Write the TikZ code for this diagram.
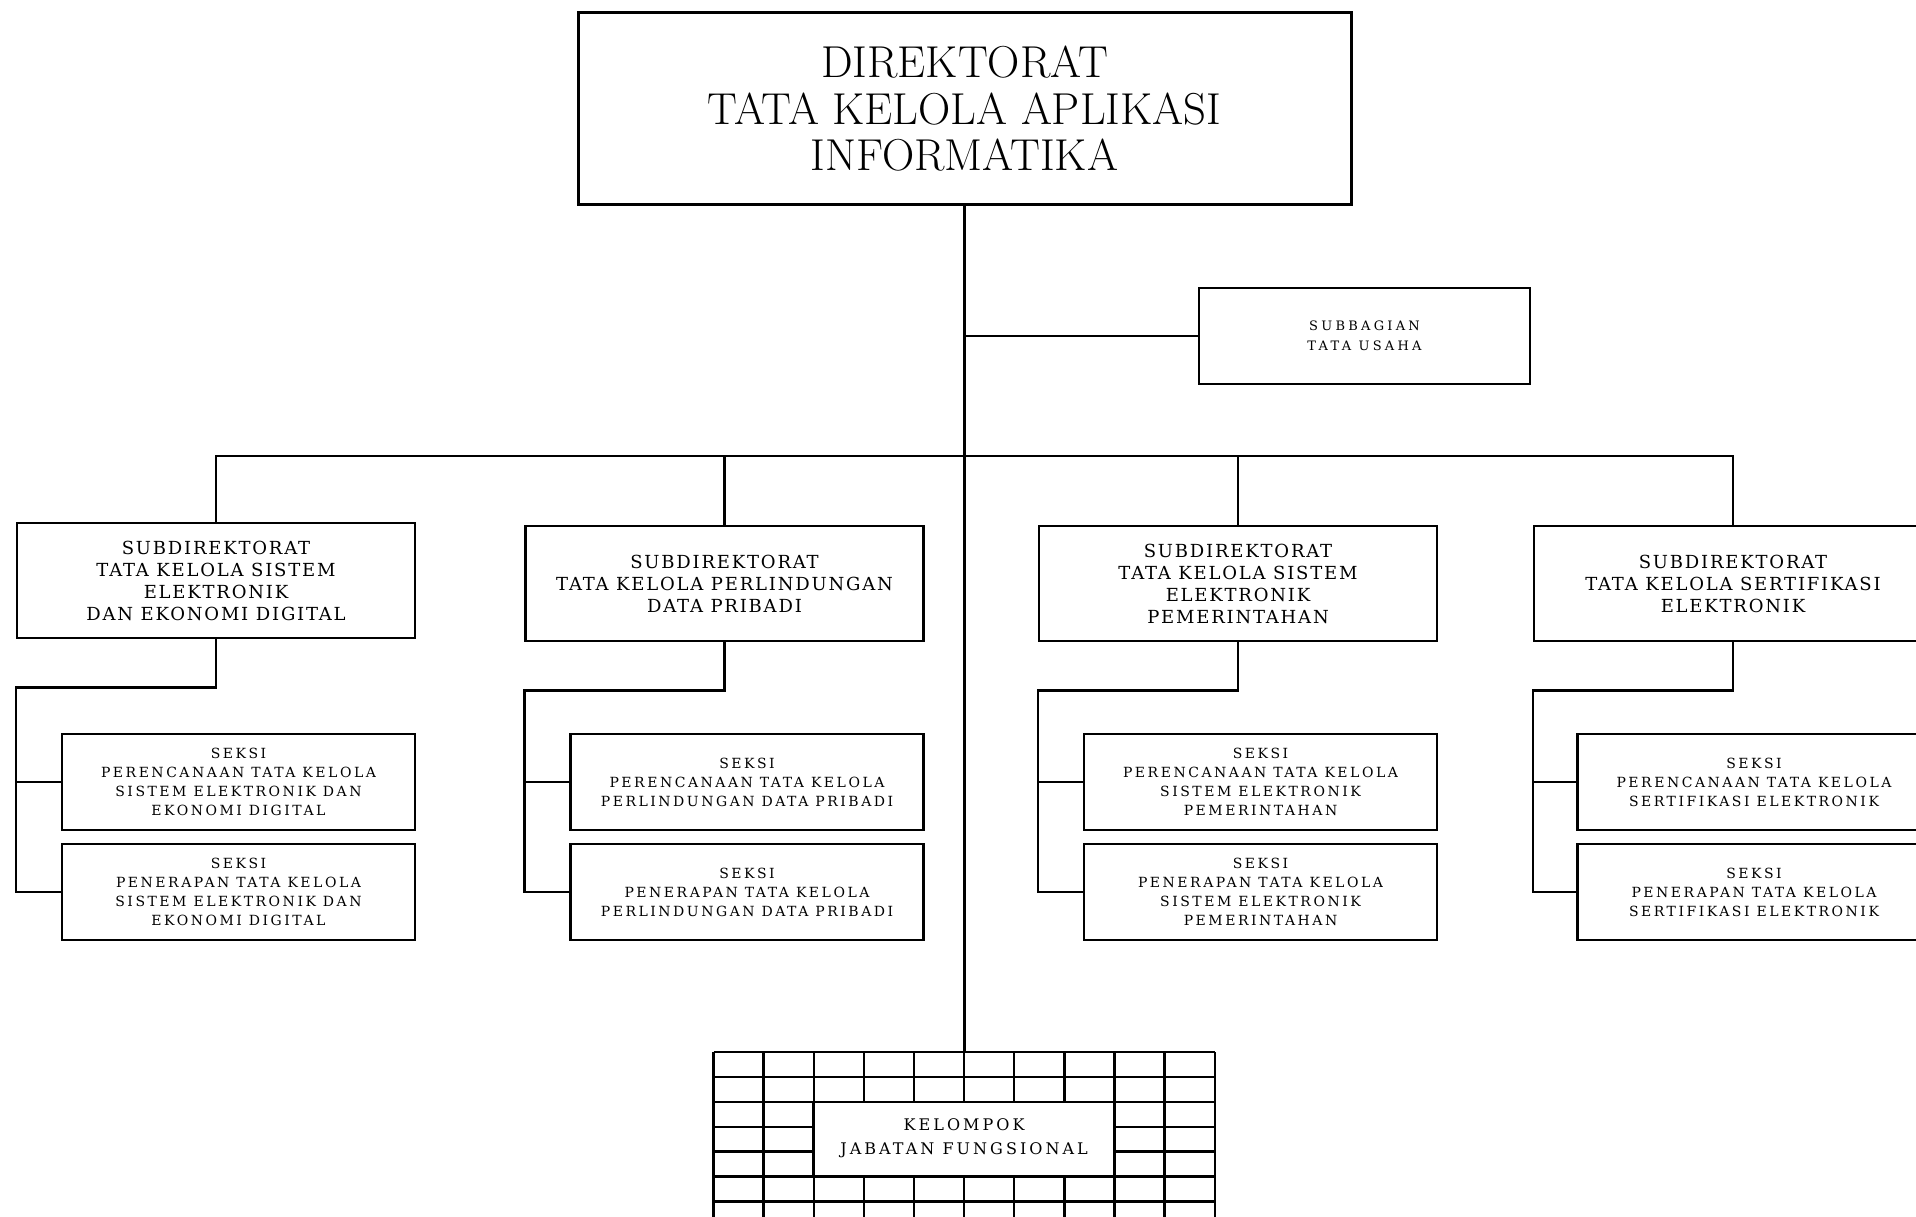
\documentclass[tikz,border=0pt]{standalone}
\usepackage{fontspec}
\newfontfamily\subfont[LetterSpace=10]{DejaVu Serif}
\newfontfamily\seksifont[LetterSpace=18]{DejaVu Serif}
\newfontfamily\tufont[LetterSpace=25]{DejaVu Serif}
\newfontfamily\kelfont[LetterSpace=19]{DejaVu Serif}
\usetikzlibrary{calc}
\tikzset{
  box/.style={draw, line width=2.5pt, inner sep=0pt, align=center, fill=white},
  mainbox/.style={box, line width=3pt, minimum width=773pt, minimum height=192pt, font=\fontsize{44.7}{46.5}\selectfont},
  tubox/.style={box, minimum width=331pt, minimum height=96pt, font=\tufont\fontsize{13}{20}\selectfont},
  subbox/.style={box, minimum width=398pt, minimum height=115pt, font=\subfont\fontsize{18}{22}\selectfont},
  seksibox/.style={box, minimum width=353pt, minimum height=96pt, font=\seksifont\fontsize{14}{19}\selectfont},
  kelbox/.style={box, minimum width=300.9pt, minimum height=74.7pt, font=\kelfont\fontsize{16}{23.5}\selectfont},
  conn/.style={line width=2.5pt},
  gridline/.style={line width=2.3pt},
}
\begin{document}
\begin{tikzpicture}[x=1pt,y=-1pt]
\useasboundingbox (0,0) rectangle (1916,1217);
% grid of Kelompok Jabatan Fungsional
\foreach \i in {0,...,10} \draw[gridline] ({713.5+50.12*\i},1052) -- ({713.5+50.12*\i},1235);
\foreach \j in {0,...,7} \draw[gridline] (713.5,{1052+24.9*\j}) -- (1214.7,{1052+24.9*\j});
\coordinate (gridtop) at (964.5,1052);
\node[kelbox] (kel) at (964.1,1139.15) {KELOMPOK\\JABATAN FUNGSIONAL\rule[-5pt]{0pt}{1pt}};

\node[mainbox] (main) at (964.5,109) {DIREKTORAT\\TATA KELOLA APLIKASI\\INFORMATIKA};
\node[tubox] (tu) at (1364.5,336) {SUBBAGIAN\\TATA USAHA};

\node[subbox] (sub1) at (216,580.5) {SUBDIREKTORAT\\TATA KELOLA SISTEM\\ELEKTRONIK\\DAN EKONOMI DIGITAL};
\node[subbox] (sub2) at (724.5,583.5) {SUBDIREKTORAT\\TATA KELOLA PERLINDUNGAN\\DATA PRIBADI};
\node[subbox] (sub3) at (1238,583.5) {SUBDIREKTORAT\\TATA KELOLA SISTEM\\ELEKTRONIK\\PEMERINTAHAN};
\node[subbox] (sub4) at (1733,583.5) {SUBDIREKTORAT\\TATA KELOLA SERTIFIKASI\\ELEKTRONIK};

\node[seksibox] (s1a) at (238.5,782) {SEKSI\\PERENCANAAN TATA KELOLA\\SISTEM ELEKTRONIK DAN\\EKONOMI DIGITAL};
\node[seksibox] (s1b) at (238.5,892) {SEKSI\\PENERAPAN TATA KELOLA\\SISTEM ELEKTRONIK DAN\\EKONOMI DIGITAL};
\node[seksibox] (s2a) at (747,782) {SEKSI\\PERENCANAAN TATA KELOLA\\PERLINDUNGAN DATA PRIBADI};
\node[seksibox] (s2b) at (747,892) {SEKSI\\PENERAPAN TATA KELOLA\\PERLINDUNGAN DATA PRIBADI};
\node[seksibox] (s3a) at (1260.5,782) {SEKSI\\PERENCANAAN TATA KELOLA\\SISTEM ELEKTRONIK\\PEMERINTAHAN};
\node[seksibox] (s3b) at (1260.5,892) {SEKSI\\PENERAPAN TATA KELOLA\\SISTEM ELEKTRONIK\\PEMERINTAHAN};
\node[seksibox] (s4a) at (1754,782) {SEKSI\\PERENCANAAN TATA KELOLA\\SERTIFIKASI ELEKTRONIK};
\node[seksibox] (s4b) at (1754,892) {SEKSI\\PENERAPAN TATA KELOLA\\SERTIFIKASI ELEKTRONIK};

% connectors
\draw[conn] (main.south) -- (main.south |- gridtop);
\draw[conn] (main.south |- tu.west) -- (tu.west);
\coordinate (bus) at (964.5,456);
\draw[conn] (sub1.north) |- (bus) -| (sub4.north);
\draw[conn] (sub2.north) -- (sub2.north |- bus);
\draw[conn] (sub3.north) -- (sub3.north |- bus);
\foreach \k in {1,2,3,4} {
  \draw[conn] (sub\k.south) -- ($(sub\k.south)+(0,48)$) -| (sub\k.west |- s\k b.west) -- (s\k b.west);
  \draw[conn] (sub\k.west |- s\k a.west) -- (s\k a.west);
}
\end{tikzpicture}
\end{document}
